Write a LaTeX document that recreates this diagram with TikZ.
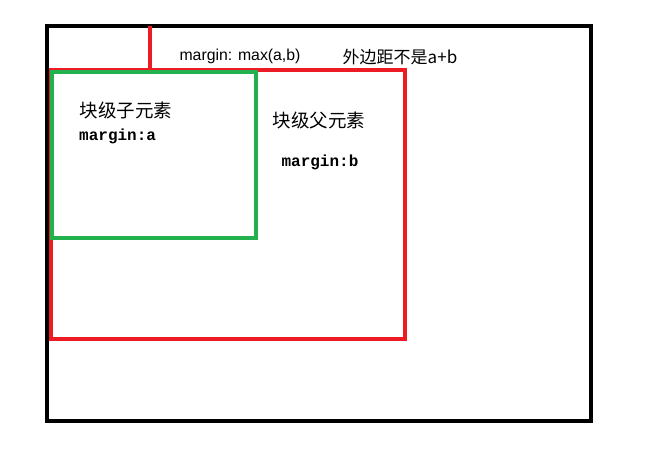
\documentclass[tikz,border=0pt]{standalone}
\usepackage{fontspec}
\setmainfont{Liberation Sans}
\setmonofont{Liberation Mono}
\newfontfamily\cjk{Noto Sans CJK SC}
\definecolor{paintred}{RGB}{237, 28, 36}
\definecolor{paintgreen}{RGB}{34, 177, 76}

\begin{document}
\begin{tikzpicture}[x = 1pt, y = -1pt,
    cjktext/.style = {inner sep = 0pt, font = \cjk\fontsize{18.5}{21}\selectfont},
    monotext/.style = {inner sep = 0pt, font = \ttfamily\bfseries\fontsize{16}{19}\selectfont}]

        \useasboundingbox (0, 0) rectangle (646, 459);

        \draw[line width = 3.5pt, black] (47, 26) rectangle (591, 421);
        \draw[line width = 3.5pt, paintred] (150, 26) -- (150, 69);
        \draw[line width = 3.5pt, paintred] (51, 70) rectangle (405, 339);
        \draw[line width = 3.5pt, paintgreen] (52, 72) rectangle (256, 238);

        \node[inner sep = 0pt, font = \fontsize{15.8}{18}\selectfont] (maxnote) at (240, 56) {margin: max(a,b)};
        \node[inner sep = 0pt, font = \cjk\fontsize{17}{20}\selectfont] (sumnote) at (400, 57) {外边距不是a+b};

        \node[cjktext] (child) at (126, 110) {块级子元素};
        \node[monotext, anchor = west] (childmargin) at (79, 136) {margin:a};

        \node[cjktext] (parent) at (319, 120) {块级父元素};
        \node[monotext] (parentmargin) at (320, 162) {margin:b};

\end{tikzpicture}
\end{document}
